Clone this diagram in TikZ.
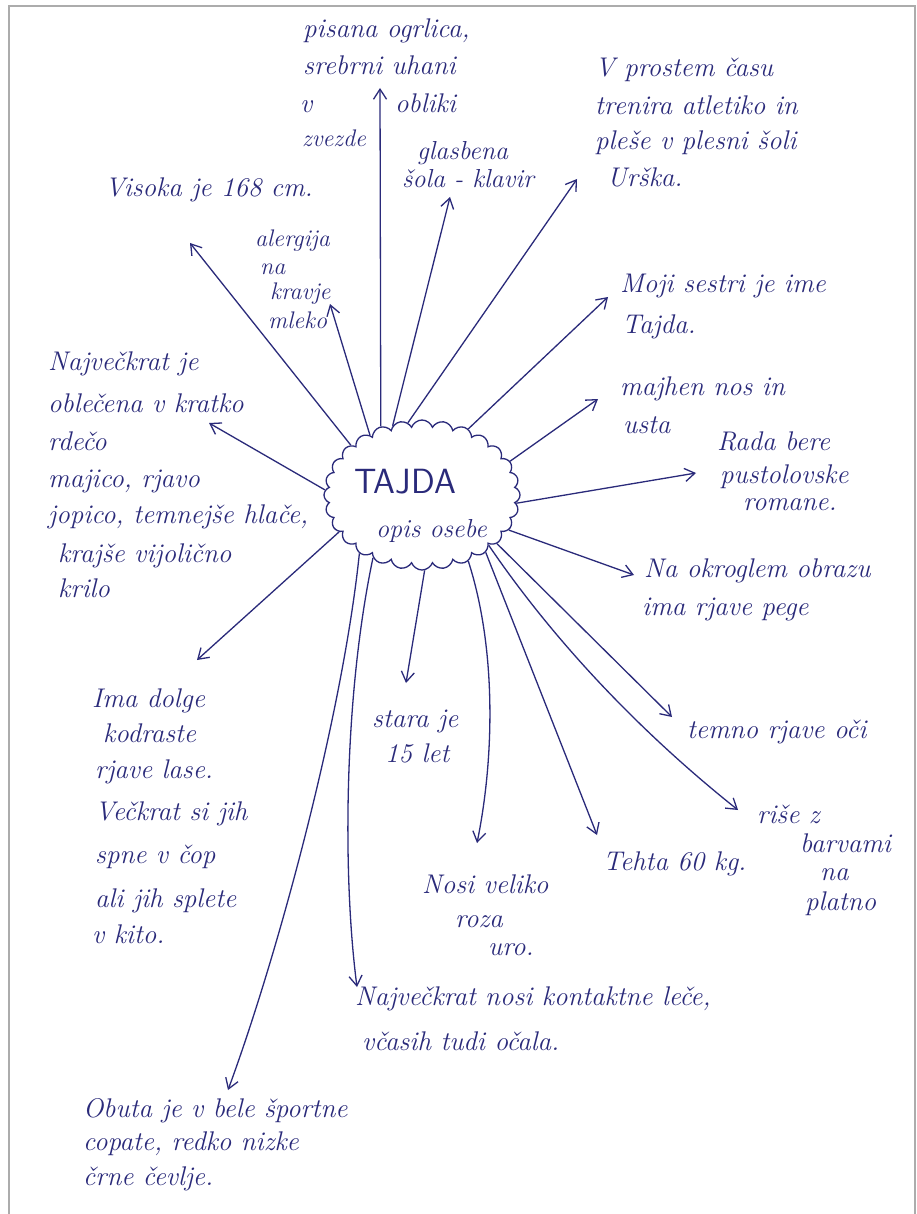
\documentclass[tikz,border=0pt]{standalone}
\usepackage{fontspec}
\usetikzlibrary{shapes.symbols,arrows.meta}
\definecolor{ink}{RGB}{42,42,122}
\definecolor{frame}{RGB}{172,172,172}
\tikzset{
  hw/.style={font=\fontsize{27}{32}\selectfont\itshape, text=ink, inner sep=0pt, anchor=base west},
  hws/.style={hw, font=\fontsize{26}{30}\selectfont\itshape},
  hwt/.style={hw, font=\fontsize{24}{28}\selectfont\itshape},
  conn/.style={draw=ink, line width=1.3pt, -{Straight Barb[angle=66:12pt, line width=1.3pt]}},
}
\begin{document}
\begin{tikzpicture}[x=1pt,y=-1pt]
\useasboundingbox (0,0) rectangle (917,1214);
\fill[white] (0,0) rectangle (917,1214);
\draw[frame, line width=1.6pt] (9,1214) -- (9,6) -- (915,6) -- (915,1214);

% central cloud
\node[cloud, cloud puffs=28, cloud puff arc=140, draw=ink, line width=1.3pt,
      minimum width=196pt, minimum height=150pt, inner sep=0pt] (c) at (422,495) {};
\node[font=\fontsize{35}{35}\selectfont\sffamily, text=ink, anchor=base west, inner sep=0pt] (title) at (354,493) {TAJDA};
\node[hws] (sub) at (376,537) {opis osebe};

% texts
\node[hw] (vis1) at (105,197) {Visoka je 168 cm.};

\node[hwt] (ale1) at (255,247) {alergija};
\node[hwt] (ale2) at (260,275) {na};
\node[hwt] (ale3) at (270,300) {kravje};
\node[hwt] (ale4) at (268,328) {mleko};

\node[hw] (pis1) at (303,38) {pisana ogrlica,};
\node[hw] (pis2) at (303,75) {srebrni uhani};
\node[hw] (pis3) at (300,113) {v};
\node[hw] (pis4) at (395,113) {obliki};
\node[hwt] (pis5) at (302,147) {zvezde};

\node[hws] (gla1) at (417,160) {glasbena};
\node[hws] (gla2) at (402,188) {šola - klavir};

\node[hw] (pro1) at (595,77) {V prostem času};
\node[hw] (pro2) at (595,115) {trenira atletiko in};
\node[hw] (pro3) at (595,150) {pleše v plesni šoli};
\node[hw] (pro4) at (607,187) {Urška.};

\node[hw] (obl1) at (48,370) {Največkrat je};
\node[hw] (obl2) at (48,412) {oblečena v kratko};
\node[hw] (obl3) at (48,450) {rdečo};
\node[hw] (obl4) at (48,487) {majico, rjavo};
\node[hw] (obl5) at (48,523) {jopico, temnejše hlače,};
\node[hw] (obl6) at (58,562) {krajše vijolično};
\node[hw] (obl7) at (58,597) {krilo};

\node[hw] (moj1) at (620,293) {Moji sestri je ime};
\node[hw] (moj2) at (622,333) {Tajda.};

\node[hw] (maj1) at (620,395) {majhen nos in};
\node[hw] (maj2) at (623,433) {usta};

\node[hw] (rad1) at (717,450) {Rada bere};
\node[hw] (rad2) at (720,483) {pustolovske};
\node[hw] (rad3) at (743,510) {romane.};

\node[hw] (nao1) at (644,577) {Na okroglem obrazu};
\node[hw] (nao2) at (642,615) {ima rjave pege};

\node[hw] (tem1) at (687,738) {temno rjave oči};

\node[hw] (ris1) at (757,823) {riše z};
\node[hw] (ris2) at (800,852) {barvami};
\node[hw] (ris3) at (820,880) {na};
\node[hw] (ris4) at (805,910) {platno};

\node[hw] (teh1) at (603,870) {Tehta 60 kg.};

\node[hw] (nos1) at (422,893) {Nosi veliko};
\node[hw] (nos2) at (455,927) {roza};
\node[hw] (nos3) at (488,955) {uro.};

\node[hw] (sta1) at (372,727) {stara je};
\node[hw] (sta2) at (385,762) {15 let};

\node[hw] (ima1) at (92,707) {Ima dolge};
\node[hw] (ima2) at (103,742) {kodraste};
\node[hw] (ima3) at (95,778) {rjave lase.};
\node[hw] (ima4) at (95,820) {Večkrat si jih};
\node[hw] (ima5) at (95,863) {spne v čop};
\node[hw] (ima6) at (95,907) {ali jih splete};
\node[hw] (ima7) at (92,943) {v kito.};

\node[hw] (kon1) at (355,1005) {Največkrat nosi kontaktne leče,};
\node[hw] (kon2) at (362,1050) {včasih tudi očala.};

\node[hw] (obu1) at (83,1117) {Obuta je v bele športne};
\node[hw] (obu2) at (83,1150) {copate, redko nizke};
\node[hw] (obu3) at (83,1185) {črne čevlje.};

% arrow tips
\coordinate (tvis) at (190,243);
\coordinate (tale) at (330,304);
\coordinate (tpis) at (380,88);
\coordinate (tgla) at (450,197);
\coordinate (tpro) at (577,179);
\coordinate (tmoj) at (608,297);
\coordinate (tmaj) at (598,399);
\coordinate (trad) at (696,473);
\coordinate (tnao) at (634,575);
\coordinate (ttem) at (672,717);
\coordinate (tris) at (738,810);
\coordinate (tteh) at (597,835);
\coordinate (tnos) at (477,843);
\coordinate (tsta) at (406,683);
\coordinate (tkon) at (357,987);
\coordinate (tobu) at (228,1090);
\coordinate (tima) at (197,660);
\coordinate (tobl) at (209,423);

% connectors
\draw[conn] (c.145) -- (tvis);
\draw[conn] (c.131) -- (tale);
\draw[conn] (c.121) -- (tpis);
\draw[conn] (c.113) -- (tgla);
\draw[conn] (c.101) -- (tpro);
\draw[conn] (c.55) -- (tmoj);
\draw[conn] (c.21) -- (tmaj);
\draw[conn] (c.-5) -- (trad);
\draw[conn] (c.-22) -- (tnao);
\draw[conn] (c.-33) -- (ttem);
\draw[conn] (c.-37) .. controls (560,650) and (650,740) .. (tris);
\draw[conn] (c.-42) -- (tteh);
\draw[conn] (c.-55) .. controls (497,650) and (494,760) .. (tnos);
\draw[conn] (c.-88) -- (tsta);
\draw[conn] (c.-128) .. controls (343,700) and (343,880) .. (tkon);
\draw[conn] (c.-137) .. controls (342,720) and (276,960) .. (tobu);
\draw[conn] (c.-156) -- (tima);
\draw[conn] (c.177) -- (tobl);
\end{tikzpicture}
\end{document}
